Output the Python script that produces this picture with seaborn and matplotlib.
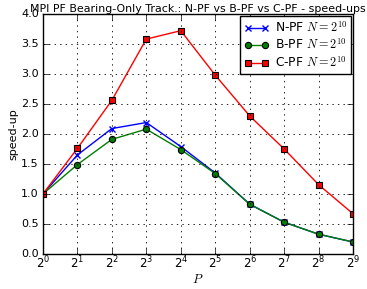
import matplotlib
matplotlib.use("Agg")
import matplotlib.pyplot as plt
import seaborn as sns
import pandas as pd
import numpy as np

P = [1, 2, 4, 8, 16, 32, 64, 128, 256, 512]
npf = [1.0, 1.65, 2.09, 2.19, 1.79, 1.35, 0.83, 0.53, 0.33, 0.20]
bpf = [1.0, 1.49, 1.91, 2.08, 1.74, 1.34, 0.83, 0.53, 0.33, 0.20]
cpf = [1.0, 1.76, 2.56, 3.58, 3.72, 2.98, 2.30, 1.75, 1.155, 0.67]
labels = ["N-PF $N=2^{10}$", "B-PF $N=2^{10}$", "C-PF $N=2^{10}$"]
title = "MPI PF Bearing-Only Track.: N-PF vs B-PF vs C-PF - speed-ups"

plt.style.use("classic")
plt.rcParams["font.family"] = ["DejaVu Sans"]
plt.rcParams["mathtext.fontset"] = "cm"
plt.rcParams["font.size"] = 8

fig = plt.figure(figsize=(3.67, 2.89), dpi=100, facecolor="white")
ax = fig.add_axes([0.117, 0.121, 0.845, 0.831])
ax.set_facecolor("white")

df = pd.DataFrame({"P": P, "npf": npf, "bpf": bpf, "cpf": cpf})
styles = [("npf", "b", "x", "b"), ("bpf", "g", "o", "k"), ("cpf", "r", "s", "k")]
for (col, c, m, ec), lab in zip(styles, labels):
    sns.lineplot(data=df, x="P", y=col, ax=ax, color=c, marker=m, markersize=4.5,
                 markeredgecolor=ec, markeredgewidth=0.8 if m != "x" else 1.0,
                 linewidth=1.0, label=lab, legend=False)

ax.set_xscale("log", base=2)
ax.set_xlim(1, 512)
ax.set_ylim(0, 4)
ax.set_xticks(P)
ax.set_xticklabels([f"$\\mathdefault{{2^{{{i}}}}}$" for i in range(10)], fontsize=8.5)
ax.set_yticks(np.arange(0, 4.01, 0.5))
ax.set_yticklabels([f"{v:.1f}" for v in np.arange(0, 4.01, 0.5)], fontsize=8)
ax.xaxis.set_minor_locator(matplotlib.ticker.NullLocator())
ax.tick_params(axis="x", pad=0.5)
ax.tick_params(axis="y", pad=3)
ax.grid(True, linestyle=":", color="k", linewidth=0.6)
ax.set_xlabel("$P$", fontsize=9, labelpad=1)
ax.set_ylabel("speed-up", fontsize=8, labelpad=2)
ax.set_title(title, fontsize=7.9, pad=1)
leg = ax.legend(loc="upper right", numpoints=2, fontsize=8.8, fancybox=False,
                borderaxespad=0.15, handlelength=2.0, labelspacing=0.2,
                borderpad=0.35, handletextpad=0.5)
leg.get_frame().set_edgecolor("k")
fig.savefig("out.png", dpi=100, facecolor="white")
